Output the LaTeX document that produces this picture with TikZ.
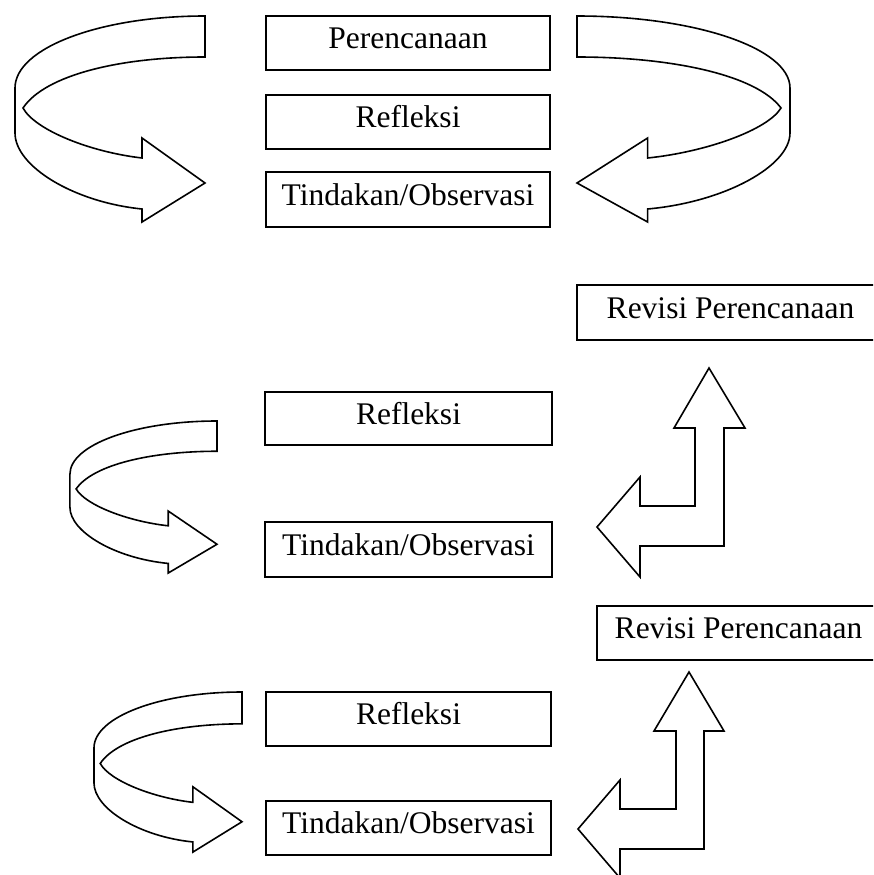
\documentclass[tikz,border=0pt]{standalone}
\usepackage{fontspec}
\setmainfont{Liberation Serif}
\begin{document}
\begin{tikzpicture}[x=1pt,y=-1pt,
  shapeline/.style={draw=black,line width=1.6pt,fill=white,line join=miter},
  boxnode/.style={draw=black,line width=1.6pt,fill=white,inner sep=0pt,
    text height=20pt,text depth=9pt,
    font=\fontsize{31.5}{36}\selectfont},
  ribbonarrow/.pic={
    \draw[shapeline] (0,0) .. controls (-105,0) and (-190,32) .. (-190,72)
      -- (-190,117) .. controls (-190,150) and (-132,186) .. (-63,193)
      -- (-63,206) -- (0,167) -- (-63,122) -- (-63,142)
      .. controls (-115,136) and (-170,114) .. (-182,92)
      .. controls (-160,59) and (-85,41) .. (0,41) -- cycle;
  }]
\path[use as bounding box,clip] (0,0) rectangle (873,875);

% curved ribbon arrows
\pic at (205,16) {ribbonarrow};
\pic[xscale=-1.121] at (577,16) {ribbonarrow};
\pic[xscale=0.774,yscale=0.738] at (217,421) {ribbonarrow};
\pic[xscale=0.779,yscale=0.777] at (242,692) {ribbonarrow};

% bent arrows
\draw[shapeline] (709,368) -- (745,428) -- (724,428) -- (724,546) -- (640,546)
  -- (640,577) -- (597,527) -- (640,477) -- (640,506) -- (695,506) -- (695,428)
  -- (674,428) -- cycle;
\draw[shapeline] (689,672) -- (724,731) -- (704,731) -- (704,849) -- (620,849)
  -- (620,878) -- (578,829) -- (620,780) -- (620,809) -- (676,809) -- (676,731)
  -- (654,731) -- cycle;

% boxes
\node[boxnode,minimum width=284pt,minimum height=54pt] (plan) at (408,43) {Perencanaan};
\node[boxnode,minimum width=284pt,minimum height=54pt] (refla) at (408,122) {Refleksi};
\node[boxnode,minimum width=284pt,minimum height=55pt] (tinda) at (408,199.5) {Tindakan/Observasi};
\node[boxnode,minimum width=307pt,minimum height=55pt] (reva) at (730.5,312.5) {Revisi Perencanaan};
\node[boxnode,minimum width=287pt,minimum height=53pt] (reflb) at (408.5,418.5) {Refleksi};
\node[boxnode,minimum width=287pt,minimum height=55pt] (tindb) at (408.5,549.5) {Tindakan/Observasi};
\node[boxnode,minimum width=283pt,minimum height=54pt] (revb) at (738.5,633) {Revisi Perencanaan};
\node[boxnode,minimum width=285pt,minimum height=54pt] (reflc) at (408.5,719) {Refleksi};
\node[boxnode,minimum width=285pt,minimum height=54pt] (tindc) at (408.5,828) {Tindakan/Observasi};
\end{tikzpicture}
\end{document}
